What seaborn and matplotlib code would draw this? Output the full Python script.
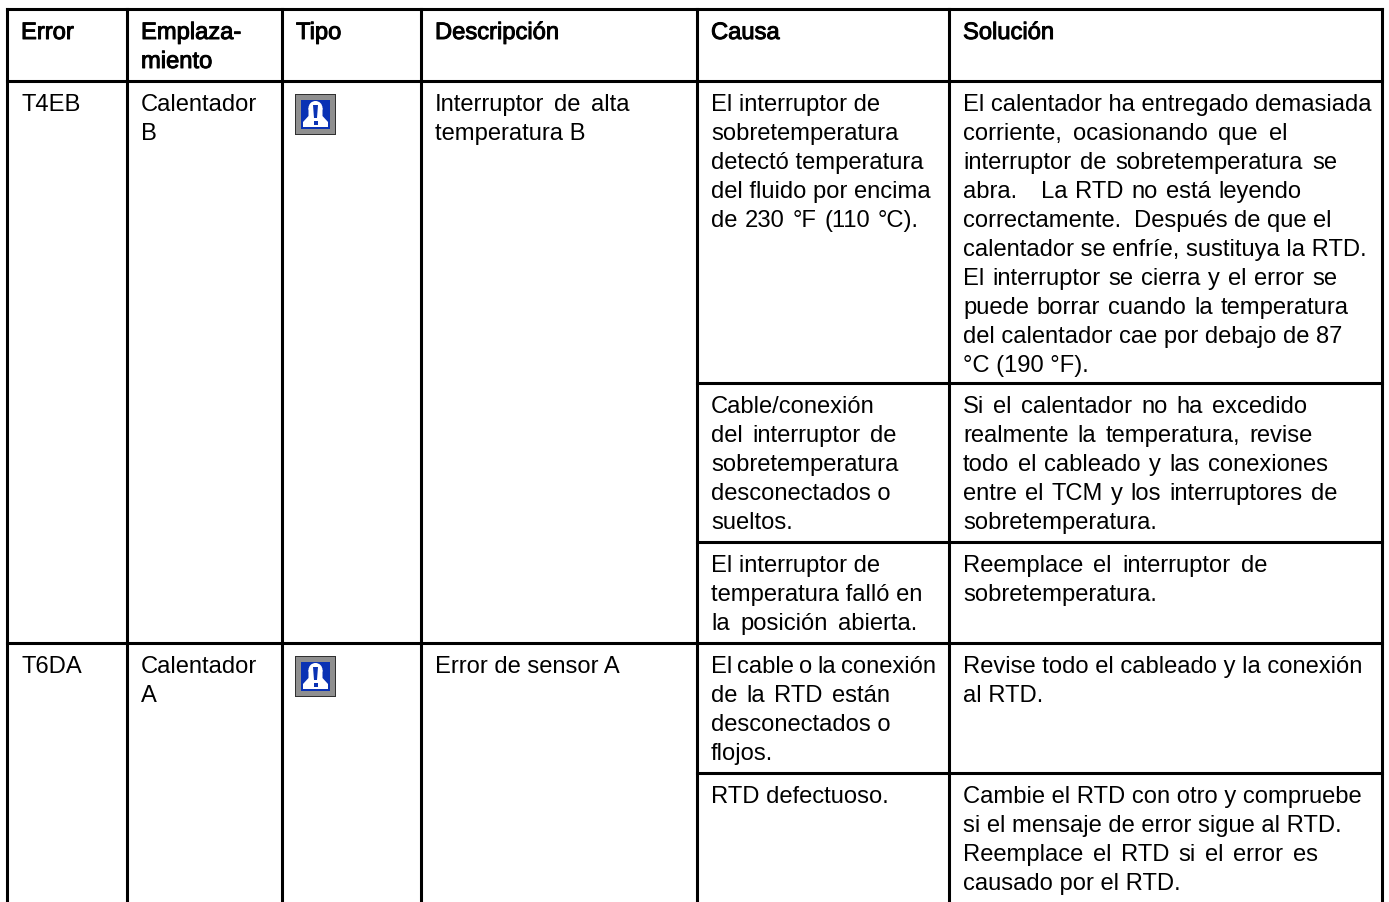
import pandas as pd
import seaborn as sns
import matplotlib.pyplot as plt
import matplotlib.patheffects as pe
from matplotlib.patches import Rectangle, Polygon, Circle

headers = ['Error', 'Emplaza-\nmiento', 'Tipo', 'Descripción', 'Causa', 'Solución']

errors = ['T4EB', 'T6DA']
lugares = ['Calentador\nB', 'Calentador\nA']
descripciones = ['Interruptor de alta\ntemperatura B', 'Error de sensor A']

causas = [
    'El interruptor de\nsobretemperatura\ndetectó temperatura\ndel fluido por encima\nde 230 °F (110 °C).',
    'Cable/conexión\ndel interruptor de\nsobretemperatura\ndesconectados o\nsueltos.',
    'El interruptor de\ntemperatura falló en\nla posición abierta.',
    'El cable o la conexión\nde la RTD están\ndesconectados o\nflojos.',
    'RTD defectuoso.',
]
soluciones = [
    'El calentador ha entregado demasiada\ncorriente, ocasionando que el\ninterruptor de sobretemperatura se\nabra.   La RTD no está leyendo\ncorrectamente.  Después de que el\ncalentador se enfríe, sustituya la RTD.\nEl interruptor se cierra y el error se\npuede borrar cuando la temperatura\ndel calentador cae por debajo de 87\n°C (190 °F).',
    'Si el calentador no ha excedido\nrealmente la temperatura, revise\ntodo el cableado y las conexiones\nentre el TCM y los interruptores de\nsobretemperatura.',
    'Reemplace el interruptor de\nsobretemperatura.',
    'Revise todo el cableado y la conexión\nal RTD.',
    'Cambie el RTD con otro y compruebe\nsi el mensaje de error sigue al RTD.\nReemplace el RTD si el error es\ncausado por el RTD.',
]

# layout in pixels
col_x = [7, 127, 282, 421, 697, 949, 1382]
row_y = [9, 81, 383, 542, 643, 773, 902]
main_rows = [1, 4]
sub_rows = [1, 2, 3, 4, 5]
FS = 17.1
LINE = 29
# right edge of lines that are set looser or tighter than the rest
line_end = {
    'Interruptor de alta': 629, 'del interruptor de': 896, 'de 230 °F (110 °C).': 919,
    'la posición abierta.': 917, 'El cable o la conexión': 936, 'de la RTD están': 890,
    'corriente, ocasionando que el': 1287, 'interruptor de sobretemperatura se': 1337,
    'abra.   La RTD no está leyendo': 1302, 'correctamente.  Después de que el': 1331,
    'El interruptor se cierra y el error se': 1337, 'puede borrar cuando la temperatura': 1349,
    'Si el calentador no ha excedido': 1307, 'realmente la temperatura, revise': 1313,
    'todo el cableado y las conexiones': 1328, 'entre el TCM y los interruptores de': 1337,
    'Reemplace el interruptor de': 1267, 'Reemplace el RTD si el error es': 1318,
}

sns.set_theme(style='white')
plt.rcParams['font.family'] = ['Liberation Sans', 'DejaVu Sans']

fig = plt.figure(figsize=(13.89, 9.02), dpi=100)
ax = fig.add_axes([0, 0, 1, 1])

# table rules
segs = []
for x in col_x:
    segs.append((x, row_y[0] - 0.5, x, row_y[-1]))
for y in row_y[:2] + [row_y[4]]:
    segs.append((col_x[0], y - (y == row_y[0]) * 0.5, col_x[-1], y - (y == row_y[0]) * 0.5))
for y in [row_y[2], row_y[3], row_y[5]]:
    segs.append((col_x[4], y, col_x[-1], y))
rules = pd.DataFrame(
    [{'seg': i, 'x': p[0], 'y': p[1]} for i, s in enumerate(segs) for p in (s[:2], s[2:])]
)
sns.lineplot(data=rules, x='x', y='y', units='seg', estimator=None, sort=False,
             color='black', linewidth=2.2, ax=ax, legend=False, solid_capstyle='projecting')
ax.set_xlim(0, 1389)
ax.set_ylim(902, 0)
ax.axis('off')
rend = fig.canvas.get_renderer()


def put(x, y, s, bold=False):
    t = ax.text(x, y, s, fontsize=FS, color='black', ha='left', va='baseline')
    if bold:
        t.set_path_effects([pe.withStroke(linewidth=0.7, foreground='black')])
    return t


def spaced_line(left, y, line):
    # word gaps are stretched so the line ends where it does in the manual
    parts = line.split(' ')
    words = [put(left, y, p) for p in parts if p]
    widths = [t.get_window_extent(rend).width for t in words]
    gap = (line_end[line] - left - sum(widths)) / (len(parts) - 1)
    x = left
    it = iter(zip(words, widths))
    for p in parts:
        if p:
            t, w = next(it)
            t.set_x(x)
            x += w + gap
        else:
            x += gap


def cell(col, row, txt, bold=False):
    left = col_x[col] + 14
    for i, line in enumerate(txt.split('\n')):
        y = row_y[row] + 30 + i * LINE
        if line in line_end:
            spaced_line(left, y, line)
        else:
            put(left, y, line, bold)


def icon(x, y):
    blue = '#0a32b4'
    ax.add_patch(Rectangle((x, y), 41, 41, fc='#303030', ec='none'))
    ax.add_patch(Rectangle((x + 1, y + 1), 38.5, 38.5, fc='#8f8f8f', ec='none'))
    ax.add_patch(Rectangle((x + 6, y + 6), 29, 29, fc=blue, ec='none'))
    bell = [(x + 13.5, y + 14), (x + 27.5, y + 14), (x + 27.5, y + 22), (x + 33, y + 28),
            (x + 33, y + 33), (x + 8, y + 33), (x + 8, y + 28), (x + 13.5, y + 22)]
    ax.add_patch(Polygon(bell, fc='white', ec='none'))
    ax.add_patch(Circle((x + 20.5, y + 14), 7, fc='white', ec='none'))
    mark = [(x + 18, y + 11), (x + 23, y + 11), (x + 22, y + 24), (x + 19, y + 24)]
    ax.add_patch(Polygon(mark, fc=blue, ec='none'))
    ax.add_patch(Rectangle((x + 18.5, y + 27), 4, 4, fc=blue, ec='none'))


for c, h in enumerate(headers):
    cell(c, 0, h, bold=True)
for err, lug, des, r in zip(errors, lugares, descripciones, main_rows):
    cell(0, r, err)
    cell(1, r, lug)
    cell(3, r, des)
    icon(col_x[2] + 13, row_y[r] + 13)
for ca, so, r in zip(causas, soluciones, sub_rows):
    cell(4, r, ca)
    cell(5, r, so)

plt.savefig('out.png', dpi=100, facecolor='white')
